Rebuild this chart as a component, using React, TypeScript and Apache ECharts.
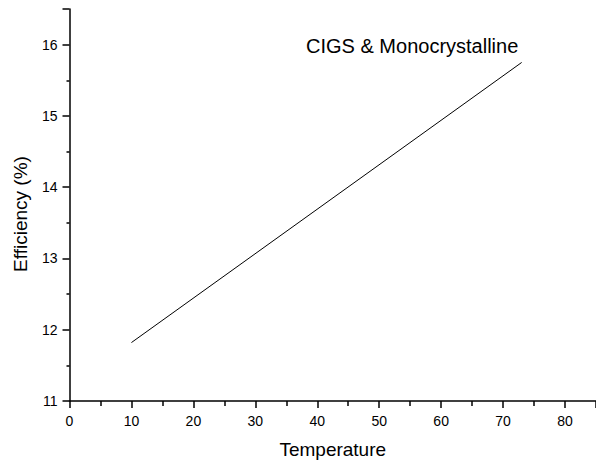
import React, { useEffect, useRef } from "react";
import * as echarts from "echarts";

const temperatures = [10, 73];
const efficiency = [11.82, 15.75];
const seriesLabel = "CIGS & Monocrystalline";
const xTitle = "Temperature";
const yTitle = "Efficiency (%)";

export default function App() {
  const ref = useRef<HTMLDivElement>(null);
  useEffect(() => {
    if (!ref.current) return;
    const chart = echarts.init(ref.current, undefined, { renderer: "svg" });
    const font = "Liberation Sans, Arial, sans-serif";
    chart.setOption({
      animation: false,
      backgroundColor: "#fff",
      grid: { left: 69.5, top: 9, right: 0, bottom: 62, containLabel: false, outerBoundsMode: "none" },
      xAxis: {
        type: "value",
        min: 0,
        max: 85,
        interval: 10,
        name: xTitle,
        nameLocation: "middle",
        nameGap: 39,
        nameTextStyle: { fontSize: 19, color: "#000", fontFamily: font },
        axisLine: { onZero: false, lineStyle: { color: "#000", width: 1.5 } },
        axisTick: { show: true, length: 7, lineStyle: { color: "#000", width: 1.5 } },
        minorTick: { show: true, splitNumber: 2, length: 5, lineStyle: { color: "#000", width: 1.5 } },
        axisLabel: { fontSize: 14, color: "#000", fontFamily: font, margin: 13, showMaxLabel: false },
        splitLine: { show: false },
      },
      yAxis: {
        type: "value",
        min: 11,
        max: 16.5,
        interval: 1,
        axisLine: { show: true, onZero: false, lineStyle: { color: "#000", width: 1.5 } },
        axisTick: { show: true, length: 7, lineStyle: { color: "#000", width: 1.5 } },
        minorTick: { show: true, splitNumber: 2, length: 3, lineStyle: { color: "#000", width: 1.5 } },
        axisLabel: { fontSize: 14, color: "#000", fontFamily: font, margin: 12, showMaxLabel: false },
        splitLine: { show: false },
      },
      graphic: [
        {
          type: "text",
          left: 306,
          top: 36,
          style: { text: seriesLabel, fontSize: 20, fill: "#000", fontFamily: font },
        },
        {
          type: "text",
          x: 20,
          y: 214,
          rotation: Math.PI / 2,
          style: {
            text: yTitle,
            fontSize: 19,
            fill: "#000",
            fontFamily: font,
            align: "center",
            verticalAlign: "middle",
          },
        },
      ],
      series: [
        {
          type: "line",
          name: seriesLabel,
          data: temperatures.map((t, i) => [t, efficiency[i]]),
          showSymbol: false,
          lineStyle: { color: "#000", width: 1 },
        },
      ],
    });
    return () => chart.dispose();
  }, []);
  return (
    <div
      ref={ref}
      style={{ position: "fixed", left: 0, top: 0, width: 596, height: 463 }}
    />
  );
}
